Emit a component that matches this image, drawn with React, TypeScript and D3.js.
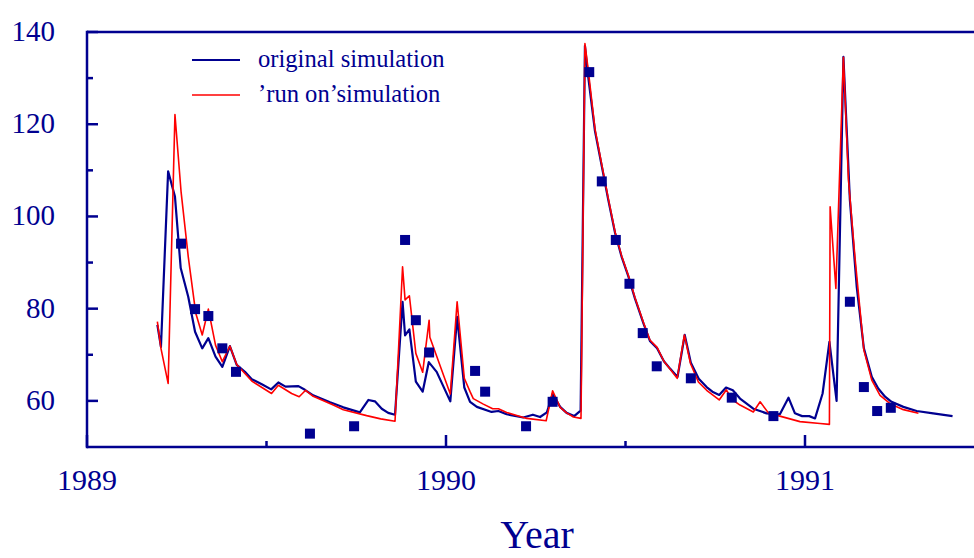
import React from 'react';
import * as d3 from 'd3';

// year (decimal), value
const originalSim: [number, number][] = [
  [1989.196, 76.5], [1989.206, 71.7], [1989.226, 109.8], [1989.245, 104.3], [1989.261, 88.8],
  [1989.282, 82.6], [1989.301, 75.0], [1989.321, 71.4], [1989.338, 73.6], [1989.358, 69.6],
  [1989.377, 67.4], [1989.398, 71.9], [1989.417, 67.8], [1989.440, 66.3], [1989.459, 64.7],
  [1989.487, 63.6], [1989.513, 62.5], [1989.533, 64.0], [1989.553, 63.1], [1989.589, 63.2],
  [1989.607, 62.4], [1989.630, 61.2], [1989.677, 59.7], [1989.714, 58.6], [1989.760, 57.5],
  [1989.784, 60.2], [1989.802, 59.9], [1989.821, 58.3], [1989.839, 57.4], [1989.858, 57.0],
  [1989.879, 81.5], [1989.886, 74.2], [1989.898, 75.5], [1989.916, 64.2], [1989.935, 62.0],
  [1989.952, 68.4], [1989.974, 66.3], [1990.012, 59.9], [1990.031, 78.2], [1990.051, 62.9],
  [1990.067, 59.8], [1990.086, 58.7], [1990.127, 57.6], [1990.146, 57.8], [1990.169, 57.1],
  [1990.215, 56.4], [1990.242, 57.0], [1990.262, 56.5], [1990.281, 57.5], [1990.297, 61.5],
  [1990.318, 58.7], [1990.336, 57.4], [1990.357, 56.7], [1990.375, 57.9], [1990.387, 137.0],
  [1990.396, 130.4], [1990.415, 118.5], [1990.434, 110.9], [1990.452, 103.6], [1990.471, 96.4],
  [1990.489, 91.3], [1990.508, 87.0], [1990.526, 82.3], [1990.550, 76.8], [1990.568, 73.0],
  [1990.588, 71.4], [1990.607, 68.6], [1990.624, 67.0], [1990.645, 65.2], [1990.665, 74.3],
  [1990.682, 68.3], [1990.704, 64.8], [1990.726, 63.0], [1990.742, 62.0], [1990.761, 61.3],
  [1990.780, 62.9], [1990.799, 62.3], [1990.819, 60.5], [1990.856, 58.3], [1990.893, 57.3],
  [1990.930, 57.1], [1990.954, 60.7], [1990.972, 57.3], [1990.992, 56.7], [1991.012, 56.7],
  [1991.028, 56.2], [1991.049, 61.6], [1991.068, 72.8], [1991.088, 60.0], [1991.107, 134.6],
  [1991.125, 103.6], [1991.144, 84.8], [1991.164, 71.4], [1991.186, 65.2], [1991.204, 62.7],
  [1991.223, 60.9], [1991.241, 59.8], [1991.274, 58.7], [1991.311, 57.8], [1991.357, 57.3],
  [1991.411, 56.7],
];

const runOnSim: [number, number][] = [
  [1989.196, 77.2], [1989.206, 71.4], [1989.226, 63.8], [1989.245, 122.1], [1989.262, 105.4],
  [1989.282, 91.3], [1989.303, 79.0], [1989.321, 74.3], [1989.338, 79.9], [1989.358, 72.1],
  [1989.377, 68.5], [1989.398, 71.9], [1989.417, 67.9], [1989.459, 64.3], [1989.514, 61.6],
  [1989.533, 63.4], [1989.570, 61.6], [1989.591, 60.9], [1989.609, 62.3], [1989.630, 61.0],
  [1989.686, 59.1], [1989.714, 58.1], [1989.779, 56.8], [1989.818, 56.1], [1989.858, 55.6],
  [1989.879, 89.1], [1989.886, 81.9], [1989.898, 82.8], [1989.916, 70.3], [1989.935, 66.2],
  [1989.953, 77.5], [1989.955, 73.8], [1990.012, 61.5], [1990.031, 81.5], [1990.051, 64.9],
  [1990.067, 62.0], [1990.076, 60.5], [1990.104, 59.3], [1990.130, 58.3], [1990.146, 58.3],
  [1990.169, 57.5], [1990.225, 56.2], [1990.279, 55.7], [1990.297, 62.2], [1990.318, 58.6],
  [1990.336, 57.4], [1990.355, 56.5], [1990.376, 56.2], [1990.387, 137.5], [1990.396, 131.9],
  [1990.415, 119.0], [1990.434, 111.2], [1990.452, 103.9], [1990.471, 96.6], [1990.489, 91.5],
  [1990.508, 87.2], [1990.526, 82.5], [1990.550, 77.0], [1990.568, 73.2], [1990.588, 71.6],
  [1990.607, 68.6], [1990.624, 66.9], [1990.644, 64.9], [1990.664, 74.3], [1990.681, 68.1],
  [1990.703, 64.1], [1990.726, 62.3], [1990.761, 60.2], [1990.781, 62.4], [1990.797, 60.3],
  [1990.819, 59.1], [1990.856, 57.6], [1990.875, 59.8], [1990.898, 57.4], [1990.930, 56.7],
  [1990.986, 55.5], [1991.042, 55.1], [1991.068, 54.9], [1991.070, 102.1], [1991.086, 84.4],
  [1991.107, 134.5], [1991.121, 108.0], [1991.139, 91.3], [1991.164, 71.0], [1991.186, 64.5],
  [1991.209, 61.2], [1991.237, 59.4], [1991.274, 58.1], [1991.316, 57.3],
];

const observed: [number, number][] = [
  [1989.262, 94.1], [1989.301, 79.9], [1989.338, 78.4], [1989.377, 71.4], [1989.415, 66.3],
  [1989.621, 52.9], [1989.744, 54.5], [1989.886, 94.9], [1989.916, 77.5], [1989.953, 70.5],
  [1990.081, 66.5], [1990.109, 62.0], [1990.223, 54.5], [1990.297, 59.8], [1990.399, 131.3],
  [1990.434, 107.6], [1990.473, 94.9], [1990.511, 85.4], [1990.548, 74.7], [1990.587, 67.5],
  [1990.682, 64.9], [1990.796, 60.7], [1990.912, 56.7], [1991.125, 81.5], [1991.164, 63.0],
  [1991.201, 57.8], [1991.239, 58.5],
];

const yTicks = [60, 80, 100, 120, 140];
const yMinor = [70, 90, 110, 130];
const xTicks = [1989, 1990, 1991];
const xMinor = [1989.5, 1990.5, 1991.5];
const legendLabels = ['original simulation', '\u2019run on\u2019simulation'];

const W = 974;
const H = 558;
const navy = '#000090';
const red = '#ff0000';
const font = '"Liberation Serif", "Times New Roman", serif';

export default function App() {
  const left = 87, top = 32, bottom = 447;
  const x = d3.scaleLinear().domain([1989, 1991.5]).range([left, left + 2.5 * 359]);
  const y = d3.scaleLinear().domain([50, 140]).range([bottom, top]);
  const line = d3.line<[number, number]>().x(d => x(d[0])).y(d => y(d[1]));
  const right = x(1991.5);

  return (
    <svg width={W} height={H} style={{ position: 'absolute', left: 0, top: 0, background: '#fff' }}>
      <path d={line(originalSim) || ''} fill="none" stroke={navy} strokeWidth={2.2} strokeLinejoin="round" />
      <path d={line(runOnSim) || ''} fill="none" stroke={red} strokeWidth={1.6} strokeLinejoin="round" />
      {observed.map((d, i) => (
        <rect key={'o' + i} x={x(d[0]) - 5} y={y(d[1]) - 5} width={10} height={10} fill={navy} />
      ))}

      {/* frame */}
      <line x1={left} y1={top} x2={right} y2={top} stroke={navy} strokeWidth={2.5} />
      <line x1={left} y1={top - 1.2} x2={left} y2={bottom + 1.2} stroke={navy} strokeWidth={2.5} />
      <line x1={left} y1={bottom} x2={right} y2={bottom} stroke={navy} strokeWidth={2.5} />
      <line x1={right} y1={top} x2={right} y2={bottom} stroke={navy} strokeWidth={2.5} />

      {yTicks.map(t => (
        <g key={'y' + t}>
          <line x1={left} y1={y(t)} x2={left + 11} y2={y(t)} stroke={navy} strokeWidth={2.5} />
          <text x={55} y={y(t) + 9} textAnchor="end" fontFamily={font} fontSize={29} fill={navy}>{t}</text>
        </g>
      ))}
      {yMinor.map(t => (
        <line key={'ym' + t} x1={left} y1={y(t)} x2={left + 6} y2={y(t)} stroke={navy} strokeWidth={2.5} />
      ))}
      {xTicks.map(t => (
        <g key={'x' + t}>
          <line x1={x(t)} y1={bottom} x2={x(t)} y2={bottom - 12} stroke={navy} strokeWidth={2.5} />
          <text x={x(t)} y={490} textAnchor="middle" fontFamily={font} fontSize={30} fill={navy}>{t}</text>
        </g>
      ))}
      {xMinor.map(t => (
        <line key={'xm' + t} x1={x(t)} y1={bottom} x2={x(t)} y2={bottom - 6} stroke={navy} strokeWidth={2.5} />
      ))}
      <text x={537} y={548} textAnchor="middle" fontFamily={font} fontSize={40} fill={navy}>Year</text>

      {/* legend */}
      {legendLabels.map((l, i) => (
        <g key={'l' + i}>
          <line x1={192} y1={60 + i * 35} x2={240} y2={60 + i * 35} stroke={i === 0 ? navy : red} strokeWidth={i === 0 ? 2 : 1.6} />
          <text x={258} y={67 + i * 35} fontFamily={font} fontSize={24.6} fill={navy}>{l}</text>
        </g>
      ))}
    </svg>
  );
}
